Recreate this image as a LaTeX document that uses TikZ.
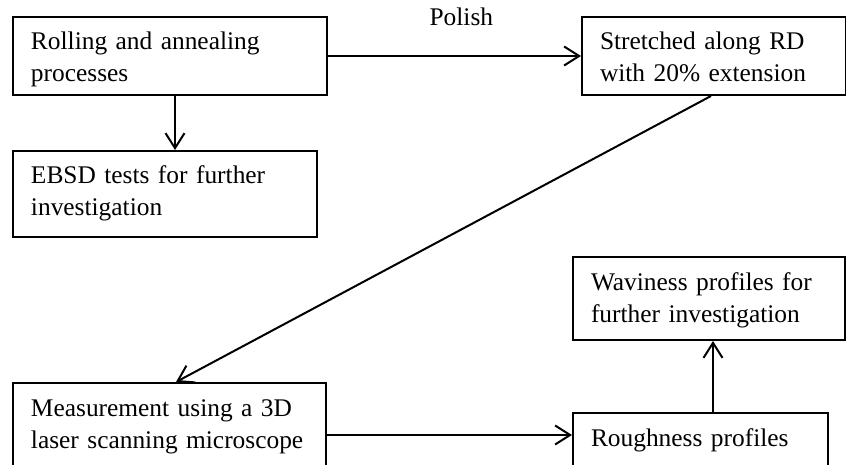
\documentclass[tikz,border=0pt]{standalone}
\usepackage{fontspec}
\setmainfont{Liberation Serif}
\usetikzlibrary{arrows.meta,calc}
\begin{document}
\begin{tikzpicture}[x=0.5pt,y=-0.5pt,
  box/.style={draw, line width=1pt, anchor=north west, align=left,
    inner xsep=9pt, inner ysep=4pt, text height=12.5pt,
    font=\fontsize{12.7pt}{16pt}\selectfont},
  arr/.style={line width=1pt, -{Straight Barb[length=7.5pt,width=9.5pt]}},
  lbl/.style={font=\fontsize{12.7pt}{16pt}\selectfont}]
\clip (0,0) rectangle (846,465);
\node[box, text width=139pt, text depth=18.5pt] (A) at (12,16) {Rolling and annealing\\processes};
\node[box, text width=134pt, text depth=22.5pt] (B) at (12,150) {EBSD tests for further\\investigation};
\node[box, text width=114pt, text depth=18.5pt] (C) at (581,16) {Stretched along RD\\with 20\% extension};
\node[box, text width=138.5pt, text depth=31.5pt] (D) at (12,382) {Measurement using a 3D\\laser scanning microscope};
\node[box, text width=109.5pt, text depth=13.5pt] (E) at (572,412) {Roughness profiles};
\node[box, text width=118pt, text depth=21pt] (F) at (572,256) {Waviness profiles for\\further investigation};
\draw[arr] ([xshift=2.5pt]A.south) -- ([xshift=2.5pt]A.south |- B.north);
\draw[arr] (A.east) -- node[lbl, pos=0.527, anchor=base, yshift=15pt] (P) {Polish} (C.west);
\draw[arr] ([xshift=-1.5pt]C.south) -- ([xshift=3.25pt]D.north);
\draw[arr] (D.east) -- (D.east -| E.west);
\draw[arr] ([xshift=6.25pt]E.north) -- ([xshift=6.25pt]E.north |- F.south);
\end{tikzpicture}
\end{document}
